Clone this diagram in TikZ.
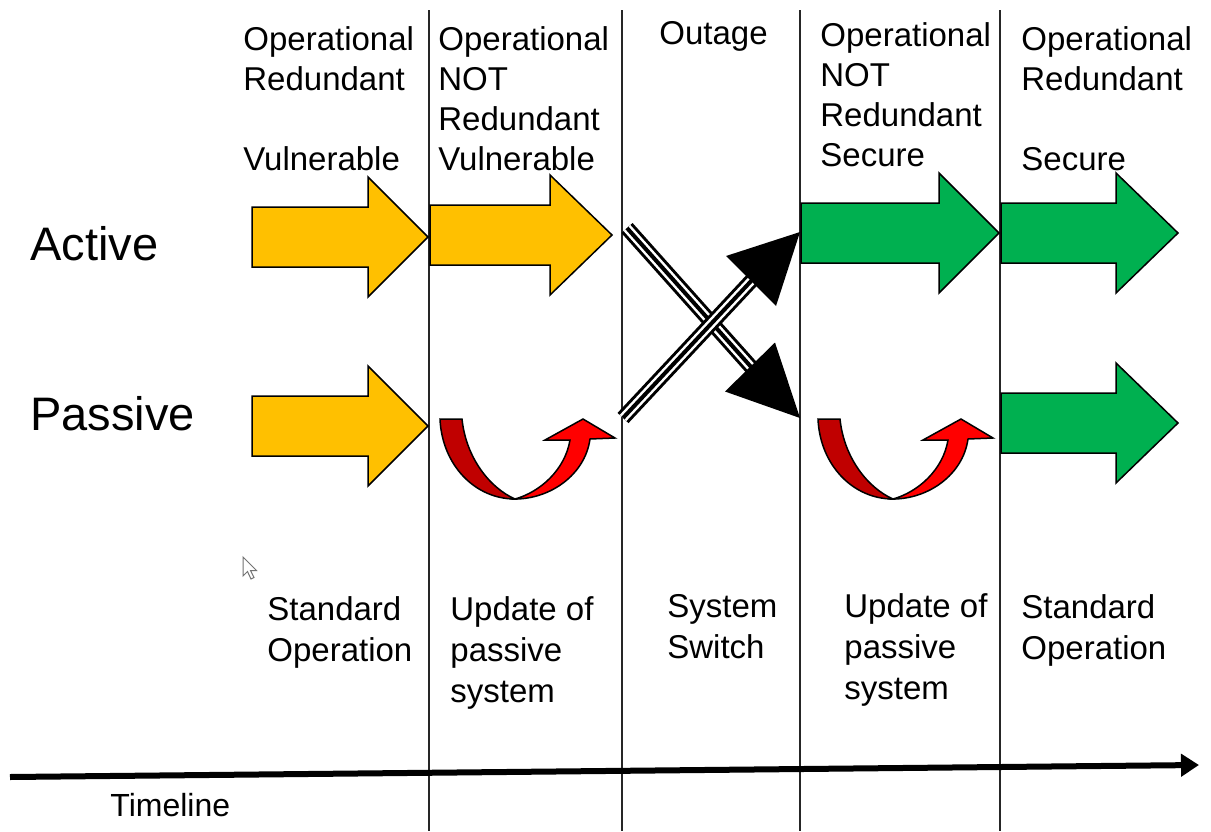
\documentclass[tikz,border=0pt]{standalone}
\usepackage{fontspec}
\setmainfont{Liberation Sans}
\usetikzlibrary{arrows.meta}
\definecolor{ayellow}{HTML}{FFC000}
\definecolor{agreen}{HTML}{00B050}
\definecolor{ared}{HTML}{FF0000}
\definecolor{adred}{HTML}{C00000}
% block arrow: x-start, head-start, tip, y-centre, colour
\newcommand\barrow[5]{%
  \filldraw[blockarrow,fill=#5] (#1,{#4-30}) -- (#2,{#4-30}) -- (#2,{#4-60}) -- (#3,#4)
    -- (#2,{#4+60}) -- (#2,{#4+30}) -- (#1,{#4+30}) -- cycle;}
% red u-turn arrow (local coordinates of the first one)
\newcommand\uturnshape{%
  \filldraw[blockarrow,fill=adred] (440,419) -- (462,419)
    .. controls (466,458) and (490,488) .. (515,499)
    .. controls (475,499) and (442,465) .. (440,419) -- cycle;
  \filldraw[blockarrow,fill=ared] (515,499)
    .. controls (550,499) and (585,475) .. (590,439) -- (615,438) -- (583,419)
    -- (545,440) -- (570,440)
    .. controls (565,470) and (540,492) .. (515,499) -- cycle;}
\begin{document}
\begin{tikzpicture}[x=0.5pt,y=-0.5pt,
  lbl/.style={inner sep=0pt,anchor=base west,font=\fontsize{16.5pt}{20pt}\selectfont},
  lblb/.style={inner sep=0pt,anchor=base west,font=\fontsize{16.5pt}{20.5pt}\selectfont},
  big/.style={inner sep=0pt,anchor=base west,font=\fontsize{23.5pt}{28pt}\selectfont},
  divider/.style={line width=1pt,black!85},
  blockarrow/.style={draw=black,line width=0.75pt,line join=miter},
  shaft/.style={line cap=butt},
  timearrow/.style={line width=3pt,-{Triangle[length=9pt,width=11pt]}}]
\useasboundingbox (0,0) rectangle (1211,831);
\fill[white] (0,0) rectangle (1211,831);

% column dividers
\foreach \x in {428.5,622,800,1000} \draw[divider] (\x,10) -- (\x,831);

% timeline
\coordinate (tl0) at (10,777);
\coordinate (tl1) at (1199,765);
\draw[timearrow] (tl0) -- (tl1);

% block arrows
\barrow{252}{368}{428}{237}{ayellow}
\barrow{430}{550}{612}{235}{ayellow}
\barrow{252}{368}{428}{426}{ayellow}
\barrow{801}{939}{999}{233}{agreen}
\barrow{1001}{1116}{1178}{233}{agreen}
\barrow{1001}{1116}{1178}{423}{agreen}

% red u-turn arrows
\uturnshape
\begin{scope}[shift={(378,0)}]
\uturnshape
\end{scope}

% crossing triple-line arrows
\coordinate (aS) at (627,228);
\coordinate (aB) at (752,368);
\coordinate (aT) at (800,418);
\coordinate (aL) at (775,342.5);
\coordinate (aR) at (725,391.5);
\draw[shaft,line width=7.5pt] (aS) -- (aB);
\draw[shaft,line width=4.5pt,white] (aS) -- (aB);
\draw[shaft,line width=2pt] (aS) -- (aB);
\fill (aT) -- (aL) -- (aR) -- cycle;

\coordinate (bS) at (623,418);
\coordinate (bB) at (753,279);
\coordinate (bT) at (800,232);
\coordinate (bL) at (726,256);
\coordinate (bR) at (776,306);
\draw[shaft,line width=7.5pt] (bS) -- (bB);
\draw[shaft,line width=4.5pt,white] (bS) -- (bB);
\draw[shaft,line width=2pt] (bS) -- (bB);
\fill (bT) -- (bL) -- (bR) -- cycle;

% mouse cursor
\filldraw[draw=black!55,fill=white,line width=0.5pt,line join=miter]
  (243,557) -- (243,576) -- (247.5,571.5) -- (251,579) -- (254,577.5)
  -- (250.5,570.5) -- (256.5,570.5) -- cycle;

% row labels
\node[big] (active) at (30,260) {Active};
\node[big] (passive) at (30,430) {Passive};
\node[inner sep=0pt,anchor=base west,font=\fontsize{16pt}{19pt}\selectfont] (timeline) at (110,816) {Timeline};

% top state labels
\node[lbl] (s1) at (243,50) {\vtop{\hbox{Operational}\hbox{Redundant}\hbox{}\hbox{Vulnerable}}};
\node[lbl] (s2) at (438,50) {\vtop{\hbox{Operational}\hbox{NOT}\hbox{Redundant}\hbox{Vulnerable}}};
\node[lbl] (s3) at (659,44) {Outage};
\node[lbl] (s4) at (820,46) {\vtop{\hbox{Operational}\hbox{NOT}\hbox{Redundant}\hbox{Secure}}};
\node[lbl] (s5) at (1021,50) {\vtop{\hbox{Operational}\hbox{Redundant}\hbox{}\hbox{Secure}}};

% bottom phase labels
\node[lblb] (p1) at (267,620) {\vtop{\hbox{Standard}\hbox{Operation}}};
\node[lblb] (p2) at (450,620) {\vtop{\hbox{Update of}\hbox{passive}\hbox{system}}};
\node[lblb] (p3) at (667,617) {\vtop{\hbox{System}\hbox{Switch}}};
\node[lblb] (p4) at (844,617) {\vtop{\hbox{Update of}\hbox{passive}\hbox{system}}};
\node[lblb] (p5) at (1021,618) {\vtop{\hbox{Standard}\hbox{Operation}}};
\end{tikzpicture}
\end{document}
